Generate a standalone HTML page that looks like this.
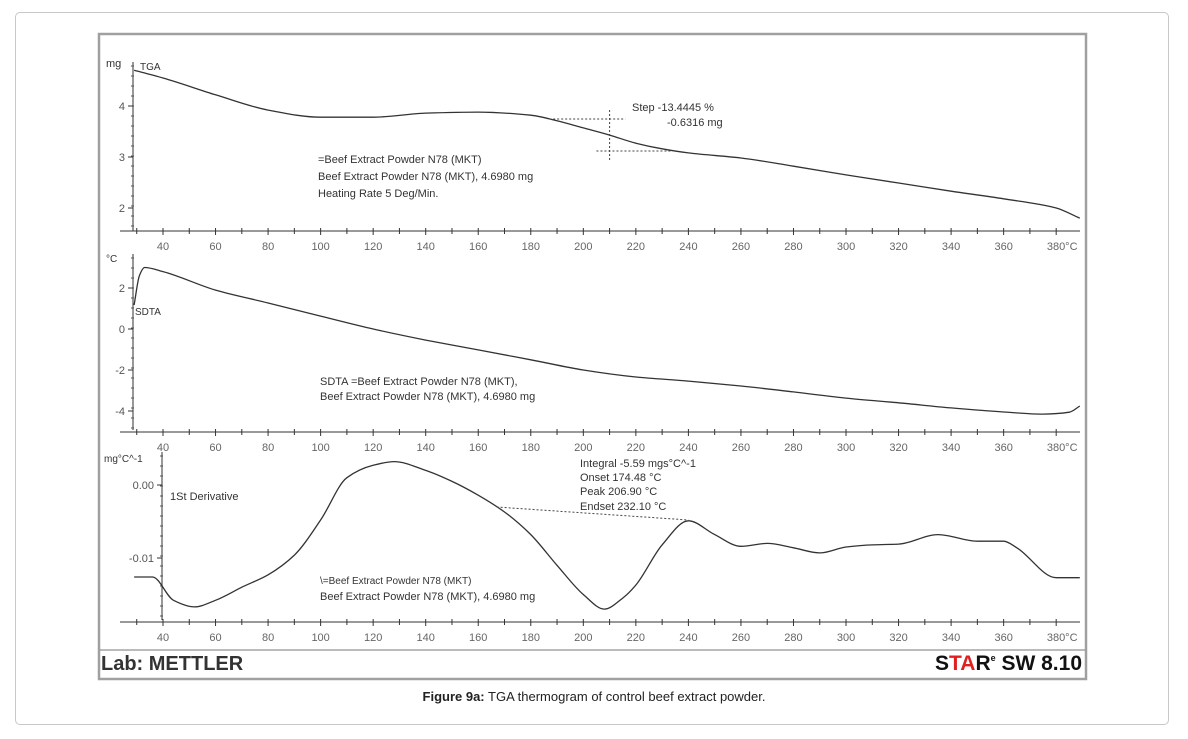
<!DOCTYPE html>
<html><head><meta charset="utf-8"><style>
body{margin:0;background:#fff;width:1188px;height:739px;overflow:hidden;font-family:"Liberation Sans",sans-serif}
#card{position:absolute;left:15px;top:12px;width:1152px;height:711px;border:1px solid #c8c8c8;border-radius:5px}
#cap{position:absolute;left:0;width:1188px;top:689px;text-align:center;font-size:13px;color:#222}
svg{position:absolute;left:0;top:0}
</style></head><body>
<div id="card"></div>
<svg id="s" width="1188" height="739" font-family="Liberation Sans, sans-serif"></svg>
<div id="cap"><b>Figure 9a:</b> TGA thermogram of control beef extract powder.</div>
<script>
const xTicks=[40,60,80,100,120,140,160,180,200,220,240,260,280,300,320,340,360,380];
const tgaT=[29,40,60,80,100,120,140,160,180,190,200,210,220,230,240,260,280,300,320,340,360,380,389];
const tgaV=[4.7,4.55,4.22,3.92,3.78,3.78,3.86,3.88,3.82,3.71,3.57,3.43,3.27,3.16,3.08,2.98,2.82,2.65,2.49,2.33,2.18,2.0,1.8];
const tgaTicks=[2,3,4];
const sdtaT=[29,31,33,40,60,80,100,120,140,160,180,200,220,240,260,280,300,320,340,360,375,385,389];
const sdtaV=[1.17,2.6,3.0,2.8,1.9,1.27,0.63,0,-0.54,-1.02,-1.5,-2.0,-2.34,-2.54,-2.78,-3.07,-3.37,-3.6,-3.85,-4.05,-4.15,-4.06,-3.76];
const sdtaTicks=[2,0,-2,-4];
const derT=[29,36,44,52,60,70,80,90,100,110,120,128,140,150,160,170,180,190,200,208,215,220,230,240,250,260,270,280,290,300,310,320,335,350,360,365,380,389];
const derV=[-0.0126,-0.0126,-0.0158,-0.0167,-0.0158,-0.0140,-0.0123,-0.0096,-0.0048,0.001,0.0027,0.0032,0.002,0.0005,-0.0014,-0.0037,-0.0068,-0.011,-0.015,-0.017,-0.0155,-0.0137,-0.0082,-0.0049,-0.0068,-0.0084,-0.008,-0.0086,-0.0093,-0.0085,-0.0082,-0.0081,-0.0068,-0.0077,-0.0077,-0.0086,-0.0127,-0.0127];
const derTicks=[0,-0.01];
const derTickLabels=["0.00","-0.01"];

const S=document.getElementById('s');const NS='http://www.w3.org/2000/svg';
function el(t,a,txt){const e=document.createElementNS(NS,t);for(const k in a)e.setAttribute(k,a[k]);if(txt!==undefined)e.textContent=txt;S.appendChild(e);return e;}
const X=T=>163+(T-40)*2.627;
const yT=v=>106-(v-4)*51;
const yS=v=>329-v*20.5;
const yD=v=>485-v*7300;

let f=el('rect',{x:99,y:34,width:987,height:645,fill:'#fff',stroke:'#a0a0a0',"stroke-width":2.5});

el('line',{x1:100,y1:650,x2:1085,y2:650,stroke:'#777','stroke-width':1});

function xAxis(y,name){
  let g=el('line',{x1:120,y1:y,x2:1080,y2:y,stroke:'#333'});
  
  for(let T=30;T<=380;T+=10){el('line',{x1:X(T),y1:y-3,x2:X(T),y2:y+(T%20==0?4:3),stroke:'#333'});}
  xTicks.forEach((T,i)=>{let t=el('text',{x:X(T)+(T==380?6:0),y:y+19,'font-size':11,fill:'#666','text-anchor':'middle'},T==380?'380°C':String(T));
    });
}
function yAxis(x,y1,y2,ticks,fy,labels,name){
  let a=el('line',{x1:x,y1:y1,x2:x,y2:y2,stroke:'#333'});
  
  for(let y=y1+4;y<y2;y+=10)el('line',{x1:x-2,y1:y,x2:x+1,y2:y,stroke:'#555'});
  ticks.forEach((v,i)=>{el('line',{x1:x-5,y1:fy(v),x2:x,y2:fy(v),stroke:'#333'});
    let t=el('text',{x:x-8,y:fy(v)+4,'font-size':11,fill:'#555','text-anchor':'end'},labels[i]);
    });
}
function line(Ts,Vs,fy,name){
  const x=Ts.map(X),y=Vs.map(fy),n=x.length;
  const s=[];for(let i=0;i<n-1;i++)s.push((y[i+1]-y[i])/(x[i+1]-x[i]));
  const m=[s[0]];
  for(let i=1;i<n-1;i++){ if(s[i-1]*s[i]<=0)m.push(0); else{const h0=x[i]-x[i-1],h1=x[i+1]-x[i];m.push(3*(h0+h1)/((2*h1+h0)/s[i-1]+(h1+2*h0)/s[i]));}}
  m.push(s[n-2]);
  let d='M'+x[0].toFixed(1)+' '+y[0].toFixed(1);
  for(let i=0;i<n-1;i++){const h=(x[i+1]-x[i])/3;
    d+=' C'+(x[i]+h).toFixed(1)+' '+(y[i]+m[i]*h).toFixed(1)+' '+(x[i+1]-h).toFixed(1)+' '+(y[i+1]-m[i+1]*h).toFixed(1)+' '+x[i+1].toFixed(1)+' '+y[i+1].toFixed(1);}
  let p=el('path',{d:d,fill:'none',stroke:'#333','stroke-width':1.3});
  
}
function txt(x,y,s,name,sz){let t=el('text',{x:x,y:y,'font-size':sz||11,fill:'#333'},s);return t;}

yAxis(133,62,231,tgaTicks,yT,tgaTicks.map(String),'tga-y-axis');
xAxis(231,'tga-x-axis');
line(tgaT,tgaV,yT,'tga-curve');
txt(106,67,'mg','tga-y-unit');txt(140,70,'TGA','tga-label',10);
txt(318,163,'=Beef Extract Powder N78 (MKT)','tga-sample-note');
txt(318,180,'Beef Extract Powder N78 (MKT), 4.6980 mg','tga-sample-mass');
txt(318,197,'Heating Rate 5 Deg/Min.','tga-heating-rate');
el('line',{x1:X(187),y1:119,x2:X(216),y2:119,stroke:'#444','stroke-dasharray':'2,2'});
el('line',{x1:X(205),y1:151,x2:X(234),y2:151,stroke:'#444','stroke-dasharray':'2,2'});
el('line',{x1:X(210),y1:110,x2:X(210),y2:160,stroke:'#444','stroke-dasharray':'2,2'});
txt(632,111,'Step   -13.4445 %','tga-step-pct');txt(667,126,'-0.6316 mg','tga-step-mg');

yAxis(133,254,430,sdtaTicks,yS,sdtaTicks.map(String),'sdta-y-axis');
xAxis(432,'sdta-x-axis');
line(sdtaT,sdtaV,yS,'sdta-curve');
txt(106,262,'°C','sdta-y-unit',10);txt(135,315,'SDTA','sdta-label',10);
txt(320,385,'SDTA =Beef Extract Powder N78 (MKT),','sdta-sample-note');
txt(320,400,'Beef Extract Powder N78 (MKT), 4.6980 mg','sdta-sample-mass');

yAxis(162,452,620,derTicks,yD,derTickLabels,'derivative-y-axis');
xAxis(622,'derivative-x-axis');
line(derT,derV,yD,'derivative-curve');
txt(104,462,'mg°C^-1','derivative-y-unit',10);txt(170,500,'1St Derivative','derivative-label');
txt(320,584,'\\=Beef Extract Powder N78 (MKT)','derivative-sample-note',10);
txt(320,600,'Beef Extract Powder N78 (MKT), 4.6980 mg','derivative-sample-mass');
el('line',{x1:X(167),y1:507,x2:X(240),y2:520,stroke:'#444','stroke-dasharray':'2,2'});
txt(580,467,'Integral  -5.59 mgs°C^-1','integral-text');
txt(580,481,'Onset     174.48 °C','onset-text');
txt(580,495,'Peak       206.90 °C','peak-text');
txt(580,510,'Endset   232.10 °C','endset-text');

let lab=txt(101,670,'Lab: METTLER','lab-label',20);lab.setAttribute('font-weight','bold');
let st=el('text',{x:1082,y:670,'font-size':21,'font-weight':'bold','text-anchor':'end',fill:'#111'});

st.innerHTML='<tspan>S</tspan><tspan fill="#e02020">TA</tspan><tspan>R</tspan><tspan font-size="9" dy="-9">e</tspan><tspan dy="9"> SW 8.10</tspan>';
</script>
</body></html>
